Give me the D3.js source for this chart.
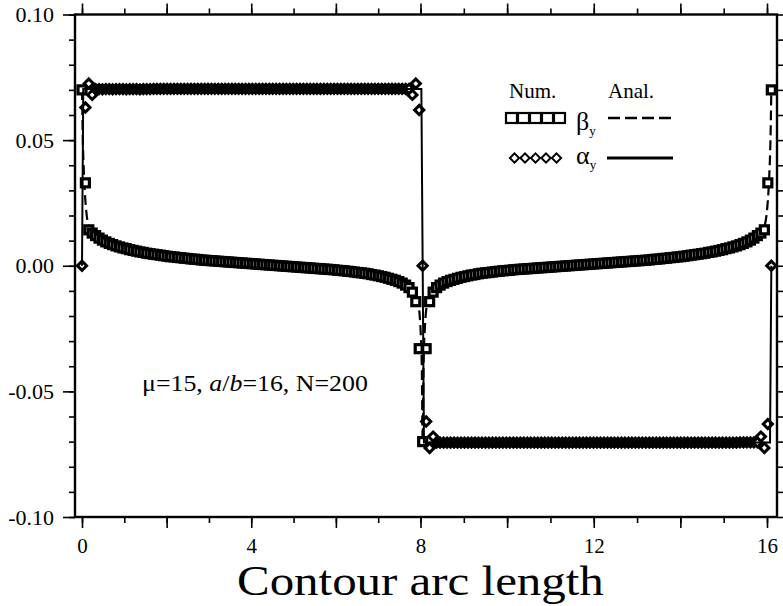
<!DOCTYPE html>
<html><head><meta charset="utf-8">
<script src="https://cdn.jsdelivr.net/npm/d3@7"></script>
<style>html,body{margin:0;padding:0;background:#fff;}svg{display:block;}</style>
</head><body>
<svg id="chart" width="783" height="606"></svg>
<script>
// ---------------- data ----------------
const nIntervals = 200;           // N=200
const contourLength = 16.1;       // total contour arc length
const xTickValues = [0, 4, 8, 12, 16];
const xTickLabels = ["0", "4", "8", "12", "16"];
const yTickValues = [0.10, 0.05, 0.00, -0.05, -0.10];
const yTickLabels = ["0.10", "0.05", "0.00", "-0.05", "-0.10"];
const seriesNames = ["β", "α"];
const xTitle = "Contour arc length";

// numerical beta_y (squares), nodes i = 0..200
const betaNum = [
  0.0700, 0.0330, 0.0143, 0.0130, 0.0120, 0.0110, 0.0102, 0.0095, 0.0089, 0.0084,
  0.0079, 0.0075, 0.0071, 0.0068, 0.0064, 0.0061, 0.0058, 0.0055, 0.0053, 0.0050,
  0.0048, 0.0046, 0.0044, 0.0042, 0.0040, 0.0038, 0.0036, 0.0035, 0.0033, 0.0032,
  0.0030, 0.0029, 0.0027, 0.0026, 0.0025, 0.0023, 0.0022, 0.0021, 0.0020, 0.0019,
  0.0018, 0.0017, 0.0016, 0.0015, 0.0014, 0.0013, 0.0012, 0.0011, 0.0010, 0.0009,
  0.0008, 0.0007, 0.0006, 0.0005, 0.0004, 0.0003, 0.0002, 0.0001, 0.0000, -0.0001,
  -0.0002, -0.0003, -0.0004, -0.0005, -0.0006, -0.0007, -0.0008, -0.0009, -0.0010, -0.0011,
  -0.0012, -0.0013, -0.0014, -0.0015, -0.0016, -0.0018, -0.0019, -0.0020, -0.0022, -0.0023,
  -0.0025, -0.0027, -0.0028, -0.0030, -0.0032, -0.0035, -0.0037, -0.0040, -0.0043, -0.0046,
  -0.0050, -0.0054, -0.0058, -0.0063, -0.0069, -0.0077, -0.0087, -0.0105, -0.0143, -0.0330,
  -0.0700,
  -0.0330, -0.0143, -0.0105, -0.0087, -0.0077, -0.0069, -0.0063, -0.0058, -0.0054, -0.0050,
  -0.0046, -0.0043, -0.0040, -0.0037, -0.0035, -0.0032, -0.0030, -0.0028, -0.0027, -0.0025,
  -0.0023, -0.0022, -0.0020, -0.0019, -0.0018, -0.0016, -0.0015, -0.0014, -0.0013, -0.0012,
  -0.0011, -0.0010, -0.0009, -0.0008, -0.0007, -0.0006, -0.0005, -0.0004, -0.0003, -0.0002,
  -0.0001, 0.0000, 0.0001, 0.0002, 0.0003, 0.0004, 0.0005, 0.0006, 0.0007, 0.0008,
  0.0009, 0.0010, 0.0011, 0.0012, 0.0013, 0.0014, 0.0015, 0.0016, 0.0017, 0.0018,
  0.0019, 0.0020, 0.0021, 0.0022, 0.0023, 0.0025, 0.0026, 0.0027, 0.0029, 0.0030,
  0.0032, 0.0033, 0.0035, 0.0036, 0.0038, 0.0040, 0.0042, 0.0044, 0.0046, 0.0048,
  0.0050, 0.0053, 0.0055, 0.0058, 0.0061, 0.0064, 0.0068, 0.0071, 0.0075, 0.0079,
  0.0084, 0.0089, 0.0095, 0.0102, 0.0110, 0.0120, 0.0130, 0.0143, 0.0330, 0.0700
];

// numerical alpha_y (diamonds), nodes i = 0..200
const alphaNum = [
  0.0000, 0.0630, 0.0725, 0.0680, 0.0703, 0.0703, 0.0702, 0.0703, 0.0703, 0.0702,
  0.0703, 0.0703, 0.0703, 0.0702, 0.0703, 0.0703, 0.0703, 0.0702, 0.0703, 0.0703,
  0.0703, 0.0704, 0.0704, 0.0704, 0.0704, 0.0704, 0.0704, 0.0704, 0.0704, 0.0704,
  0.0704, 0.0704, 0.0704, 0.0704, 0.0704, 0.0704, 0.0704, 0.0704, 0.0704, 0.0704,
  0.0704, 0.0704, 0.0704, 0.0704, 0.0704, 0.0704, 0.0704, 0.0704, 0.0704, 0.0704,
  0.0704, 0.0704, 0.0704, 0.0704, 0.0704, 0.0704, 0.0704, 0.0704, 0.0704, 0.0704,
  0.0704, 0.0704, 0.0704, 0.0704, 0.0704, 0.0704, 0.0704, 0.0704, 0.0704, 0.0704,
  0.0704, 0.0704, 0.0704, 0.0704, 0.0704, 0.0704, 0.0704, 0.0704, 0.0704, 0.0704,
  0.0704, 0.0704, 0.0704, 0.0704, 0.0704, 0.0704, 0.0704, 0.0704, 0.0704, 0.0704,
  0.0704, 0.0704, 0.0704, 0.0704, 0.0704, 0.0704, 0.0704, 0.0680, 0.0725, 0.0620,
  0.0000,
  -0.0620, -0.0725, -0.0680, -0.0704, -0.0704, -0.0704, -0.0704, -0.0704, -0.0704, -0.0704,
  -0.0704, -0.0704, -0.0704, -0.0704, -0.0704, -0.0704, -0.0704, -0.0704, -0.0704, -0.0704,
  -0.0704, -0.0704, -0.0704, -0.0704, -0.0704, -0.0704, -0.0704, -0.0704, -0.0704, -0.0704,
  -0.0704, -0.0704, -0.0704, -0.0704, -0.0704, -0.0704, -0.0704, -0.0704, -0.0704, -0.0704,
  -0.0704, -0.0704, -0.0704, -0.0704, -0.0704, -0.0704, -0.0704, -0.0704, -0.0704, -0.0704,
  -0.0704, -0.0704, -0.0704, -0.0704, -0.0704, -0.0704, -0.0704, -0.0704, -0.0704, -0.0704,
  -0.0704, -0.0704, -0.0704, -0.0704, -0.0704, -0.0704, -0.0704, -0.0704, -0.0704, -0.0704,
  -0.0704, -0.0704, -0.0704, -0.0704, -0.0704, -0.0704, -0.0704, -0.0704, -0.0704, -0.0704,
  -0.0704, -0.0704, -0.0704, -0.0704, -0.0704, -0.0704, -0.0704, -0.0704, -0.0704, -0.0704,
  -0.0703, -0.0703, -0.0703, -0.0703, -0.0703, -0.0703, -0.0680, -0.0725, -0.0630, 0.0000
];

// analytical beta_y (dashed)
const betaAnaS = [0, 0.02, 0.05, 0.10, 0.16, 0.24, 0.40, 0.80, 1.60, 2.40, 3.20, 4.00, 4.70, 5.60, 6.40, 7.00, 7.40, 7.70, 7.85, 7.94, 8.00, 8.03, 8.05,
                  8.07, 8.10, 8.16, 8.25, 8.40, 8.70, 9.10, 9.70, 10.50, 11.40, 12.10, 12.90, 13.70, 14.50, 15.30, 15.70, 15.86, 15.94, 16.00, 16.05, 16.08, 16.10];
const betaAnaV = [0.070, 0.050, 0.035, 0.022, 0.0155, 0.013, 0.011, 0.008, 0.0048, 0.0030, 0.0018, 0.0008, 0.0000, -0.0011, -0.0025, -0.0040, -0.0058, -0.0084, -0.0110, -0.0145, -0.025, -0.040, -0.070,
                  -0.040, -0.025, -0.0145, -0.0110, -0.0084, -0.0058, -0.0040, -0.0025, -0.0011, 0.0000, 0.0008, 0.0018, 0.0030, 0.0048, 0.008, 0.011, 0.013, 0.0155, 0.022, 0.035, 0.050, 0.070];
// analytical alpha_y (solid)
const alphaAnaS = [0, 0.03, 8.02, 8.05, 8.08, 16.07, 16.10];
const alphaAnaV = [0.000, 0.0703, 0.0703, 0.000, -0.0703, -0.0703, 0.000];

// ---------------- drawing ----------------
const svg = d3.select("#chart");
const FONT = "'Liberation Serif', 'Times New Roman', serif";
const L = 75, R = 777, T = 14.5, B = 517;

// scanned axis is slightly non-uniform: piecewise-linear scale through 0, 8 and 16
const x = d3.scaleLinear().domain([-0.165, 0, 8, 16, 16.231]).range([L, 82, 420.5, 767, R]);
const y = d3.scaleLinear().domain([-0.10, 0.10]).range([B, T]);

const sNodes = d3.range(nIntervals + 1).map(i => i * contourLength / nIntervals);

const xMinor = d3.range(0, 17, 1);
const xMajor = d3.range(0, 17, 2);
const yMinor = d3.range(-10, 11, 1).map(v => v / 100);

function styleAxis(g) {
  g.attr("font-family", FONT);
  g.select(".domain").remove();
  g.selectAll(".tick line").attr("stroke", "#000").attr("stroke-width", 1.6);
  g.selectAll("text").attr("font-family", FONT).attr("fill", "#000");
}

// bottom axis
svg.append("g").attr("transform", `translate(0,${B})`)
  .call(d3.axisBottom(x).tickValues(xMinor).tickSize(6).tickFormat("")).call(styleAxis);
svg.append("g").attr("transform", `translate(0,${B})`)
  .call(d3.axisBottom(x).tickValues(xMajor).tickSize(11).tickFormat(""))
  .call(styleAxis);
svg.append("g").attr("transform", `translate(0,${B})`)
  .call(d3.axisBottom(x).tickValues(xTickValues).tickSize(0).tickPadding(21)
    .tickFormat((d, i) => xTickLabels[i]))
  .call(styleAxis)
  .selectAll("text").attr("font-size", 21);

// top axis
svg.append("g").attr("transform", `translate(0,${T})`)
  .call(d3.axisTop(x).tickValues(xMinor).tickSize(6).tickFormat("")).call(styleAxis);
svg.append("g").attr("transform", `translate(0,${T})`)
  .call(d3.axisTop(x).tickValues(xMajor).tickSize(11).tickFormat("")).call(styleAxis);

// left axis
svg.append("g").attr("transform", `translate(${L},0)`)
  .call(d3.axisLeft(y).tickValues(yMinor).tickSize(6).tickFormat("")).call(styleAxis);
svg.append("g").attr("transform", `translate(${L},0)`)
  .call(d3.axisLeft(y).tickValues(yTickValues).tickSize(12).tickPadding(9)
    .tickFormat((d, i) => yTickLabels[i]))
  .call(styleAxis)
  .selectAll("text").attr("font-size", 22);

// right axis
svg.append("g").attr("transform", `translate(${R},0)`)
  .call(d3.axisRight(y).tickValues(yMinor).tickSize(6).tickFormat("")).call(styleAxis);

// frame
svg.append("rect").attr("x", L).attr("y", T).attr("width", R - L).attr("height", B - T)
  .attr("fill", "none").attr("stroke", "#000").attr("stroke-width", 2.4);

// plot clip
svg.append("clipPath").attr("id", "clip").append("rect")
  .attr("x", L).attr("y", T).attr("width", R - L).attr("height", B - T);
const plot = svg.append("g").attr("clip-path", "url(#clip)");

// analytical beta (under markers)
plot.append("path").datum(betaAnaS.map((s, i) => [s, betaAnaV[i]]))
  .attr("d", d3.line().x(d => x(d[0])).y(d => y(d[1])).curve(d3.curveMonotoneX)).attr("fill", "none")
  .attr("stroke", "#000").attr("stroke-width", 2.2).attr("stroke-dasharray", "10,5");

// numerical markers
const sqSize = 8;
plot.append("g").selectAll("rect").data(betaNum).join("rect")
  .attr("x", (d, i) => x(sNodes[i]) - sqSize / 2)
  .attr("y", d => y(d) - sqSize / 2)
  .attr("width", sqSize).attr("height", sqSize)
  .attr("fill", "#fff").attr("stroke", "#000").attr("stroke-width", 3.2);

const diamond = (cx, cy, r) => `M${cx},${cy - r}L${cx + r},${cy}L${cx},${cy + r}L${cx - r},${cy}Z`;
plot.append("g").selectAll("path").data(alphaNum).join("path")
  .attr("d", (d, i) => diamond(x(sNodes[i]), y(d), 4.6))
  .attr("fill", "#fff").attr("stroke", "#000").attr("stroke-width", 3.0);

// analytical alpha
plot.append("path").datum(alphaAnaS.map((s, i) => [s, alphaAnaV[i]]))
  .attr("d", d3.line().x(d => x(d[0])).y(d => y(d[1]))).attr("fill", "none")
  .attr("stroke", "#000").attr("stroke-width", 2);

// legend
const lg = svg.append("g").attr("font-family", FONT).attr("fill", "#000");
lg.append("text").attr("x", 509).attr("y", 98).attr("font-size", 21).text("Num.");
lg.append("text").attr("x", 608).attr("y", 98).attr("font-size", 21).text("Anal.");
d3.range(5).forEach(k => {
  lg.append("rect").attr("x", 506 + k * 12).attr("y", 113).attr("width", 11).attr("height", 10)
    .attr("fill", "#fff").attr("stroke", "#000").attr("stroke-width", 2.2);
  lg.append("path").attr("d", diamond(514.5 + k * 10.5, 158, 4.6))
    .attr("fill", "#fff").attr("stroke", "#000").attr("stroke-width", 2);
});
const sym1 = lg.append("text").attr("x", 576).attr("y", 130).attr("font-size", 26).text(seriesNames[0]);
sym1.append("tspan").attr("font-size", 13).attr("dy", 5).text("y");
const sym2 = lg.append("text").attr("x", 576).attr("y", 164).attr("font-size", 26).text(seriesNames[1]);
sym2.append("tspan").attr("font-size", 13).attr("dy", 5).text("y");
lg.append("line").attr("x1", 608).attr("x2", 675).attr("y1", 118).attr("y2", 118)
  .attr("stroke", "#000").attr("stroke-width", 2.5).attr("stroke-dasharray", "12,5");
lg.append("line").attr("x1", 607).attr("x2", 673).attr("y1", 158).attr("y2", 158)
  .attr("stroke", "#000").attr("stroke-width", 3);

// helper: stretch a text horizontally to a target width (scanned figure is slightly wider)
function stretchTo(sel, x0, y0, targetW, anchorMiddle) {
  const w = sel.node().getComputedTextLength();
  const k = targetW / w;
  const tx = anchorMiddle ? x0 - targetW / 2 : x0;
  sel.attr("x", 0).attr("y", 0).attr("text-anchor", "start")
     .attr("transform", `translate(${tx},${y0}) scale(${k},1)`);
}

// annotation
const ann = svg.append("text").attr("font-family", FONT)
  .attr("font-size", 24).attr("fill", "#000");
ann.append("tspan").text("μ=15, ");
ann.append("tspan").attr("font-style", "italic").text("a");
ann.append("tspan").text("/");
ann.append("tspan").attr("font-style", "italic").text("b");
ann.append("tspan").text("=16, N=200");
stretchTo(ann, 142, 391, 226, false);

// x title
const ttl = svg.append("text").attr("font-family", FONT).attr("font-size", 43).attr("fill", "#000")
  .text(xTitle);
stretchTo(ttl, 420.5, 595, 367, true);
</script>
</body></html>
